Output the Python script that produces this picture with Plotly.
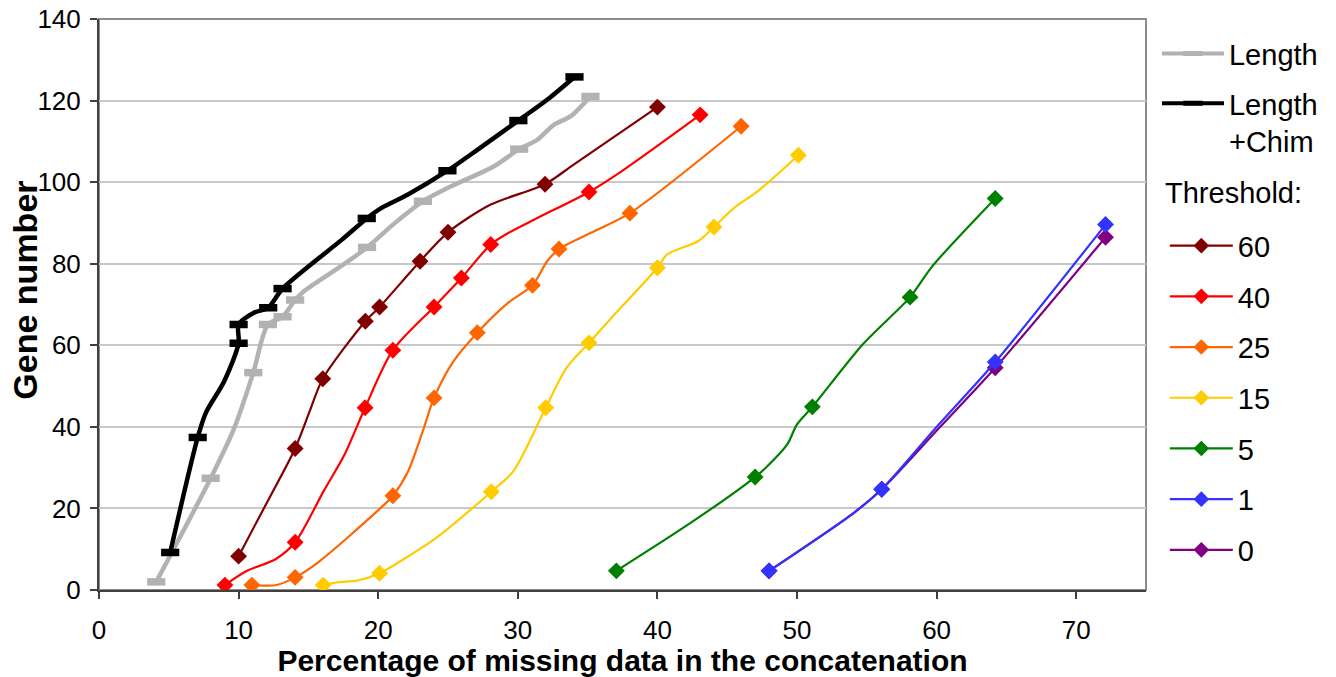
import plotly.graph_objects as go

# ---------------- data (x = % missing data, y = gene number) ----------------
# full smoothed path points; *_mk marks points that carry a marker (1) or not (0)
len_x = [4.1, 8.0, 9.7, 11.05, 12.1, 13.15, 14.05, 14.7, 17.6, 19.2, 21.1, 22.4, 23.2, 25.0, 28.3, 30.1, 31.4, 32.6, 33.8, 35.2]
len_y = [2.0, 27.4, 39.8, 53.3, 65.1, 67.0, 71.1, 73.3, 80.0, 84.0, 89.7, 93.3, 95.3, 98.6, 103.9, 108.1, 110.4, 114.1, 116.2, 121.0]
len_mk = [1, 1, 0, 1, 1, 1, 1, 0, 0, 1, 0, 0, 1, 0, 0, 1, 0, 0, 0, 1]

chim_x = [5.1, 7.07, 7.66, 8.97, 10.0, 10.0, 11.1, 12.12, 13.15, 17.4, 19.18, 20.3, 22.1, 24.96, 27.3, 30.04, 32.1, 34.06]
chim_y = [9.2, 37.4, 43.5, 51.2, 60.5, 65.1, 68.0, 69.2, 73.9, 85.9, 91.1, 93.8, 96.9, 102.8, 108.4, 115.1, 120.2, 125.8]
chim_mk = [1, 1, 0, 0, 1, 1, 0, 1, 1, 0, 1, 0, 0, 1, 0, 1, 0, 1]

t60_x = [10.0, 12.1, 14.05, 15.1, 16.03, 19.08, 20.1, 23.0, 25.0, 28.06, 31.95, 34.0, 40.0]
t60_y = [8.3, 21.9, 34.7, 43.9, 51.8, 65.9, 69.4, 80.6, 87.7, 94.5, 99.5, 104.3, 118.4]
t60_mk = [1, 0, 1, 0, 1, 1, 1, 1, 1, 0, 1, 0, 1]

t40_x = [9.02, 10.6, 12.67, 14.05, 16.1, 17.6, 19.06, 21.05, 24.0, 25.96, 28.06, 29.3, 31.4, 35.1, 37.4, 43.06]
t40_y = [1.2, 4.7, 7.6, 11.7, 24.3, 33.3, 44.7, 58.8, 69.4, 76.5, 84.7, 87.5, 91.2, 97.6, 102.6, 116.5]
t40_mk = [1, 0, 0, 1, 0, 0, 1, 1, 1, 1, 1, 0, 0, 1, 0, 1]

t25_x = [10.95, 11.8, 12.8, 14.05, 15.7, 19.95, 21.05, 22.1, 23.2, 24.0, 25.4, 27.1, 29.3, 31.05, 32.1, 32.95, 35.5, 38.03, 46.0]
t25_y = [1.2, 1.05, 1.3, 3.1, 6.8, 19.4, 23.1, 28.8, 39.0, 47.1, 56.1, 63.1, 70.4, 74.7, 80.6, 83.6, 88.0, 92.4, 113.7]
t25_mk = [1, 0, 0, 1, 0, 0, 1, 0, 0, 1, 0, 1, 0, 1, 0, 1, 0, 1, 1]

t15_x = [16.06, 17.1, 18.5, 20.1, 21.85, 24.2, 28.1, 29.7, 32.0, 33.5, 35.1, 36.7, 40.0, 40.7, 42.9, 44.05, 45.5, 47.2, 50.1]
t15_y = [1.2, 1.9, 2.3, 4.1, 7.6, 12.9, 24.1, 29.2, 44.7, 54.5, 60.6, 66.7, 79.0, 82.3, 85.5, 89.0, 93.7, 97.8, 106.6]
t15_mk = [1, 0, 0, 1, 0, 0, 1, 0, 1, 0, 1, 0, 1, 0, 0, 1, 0, 0, 1]

t5_x = [37.06, 42.4, 47.0, 47.8, 49.3, 50.0, 51.1, 54.7, 58.1, 59.7, 64.2]
t5_y = [4.7, 16.5, 27.7, 30.1, 35.7, 40.6, 44.9, 60.2, 71.8, 79.4, 96.0]
t5_mk = [1, 0, 1, 0, 0, 0, 1, 0, 1, 0, 1]

t1_x = [48.0, 54.1, 56.07, 60.06, 64.2, 72.1]
t1_y = [4.7, 19.0, 24.7, 40.2, 55.9, 89.6]
t1_mk = [1, 0, 1, 0, 1, 1]

t0_x = [48.0, 54.1, 56.07, 60.06, 64.2, 72.1]
t0_y = [4.7, 19.0, 24.7, 39.3, 54.5, 86.5]
t0_mk = [1, 0, 1, 0, 1, 1]

x_ticks = [0, 10, 20, 30, 40, 50, 60, 70]
y_ticks = [0, 20, 40, 60, 80, 100, 120, 140]

FONT = "Liberation Sans, Arial, sans-serif"

fig = go.Figure()

def add_series(xs, ys, mk, name, color, lw, symbol, msize, mlw, legend, order):
    # smoothed line through every path point
    fig.add_trace(go.Scatter(x=xs, y=ys, mode="lines", line=dict(color=color, width=lw, shape="spline", smoothing=0.8),
                             showlegend=False, hoverinfo="skip"))
    mx = [a for a, m in zip(xs, mk) if m]
    my = [b for b, m in zip(ys, mk) if m]
    if symbol == "line-ew":
        marker = dict(symbol=symbol, size=msize, line=dict(color=color, width=mlw))
    else:
        marker = dict(symbol=symbol, size=msize, color=color, line=dict(width=0))
    fig.add_trace(go.Scatter(x=mx, y=my, mode="markers", marker=marker, showlegend=False))
    return dict(name=name, color=color, lw=lw, marker=marker, legend=legend, order=order)

entries = []
entries.append(add_series(t0_x, t0_y, t0_mk, "0", "#800080", 2.2, "diamond", 13, 0, "legend2", 8))
entries.append(add_series(t1_x, t1_y, t1_mk, "1", "#3333ff", 2.2, "diamond", 13, 0, "legend2", 7))
entries.append(add_series(t5_x, t5_y, t5_mk, "5", "#008000", 2.2, "diamond", 13, 0, "legend2", 6))
entries.append(add_series(t15_x, t15_y, t15_mk, "15", "#ffcc00", 2.2, "diamond", 13, 0, "legend2", 5))
entries.append(add_series(t25_x, t25_y, t25_mk, "25", "#ff6600", 2.2, "diamond", 13, 0, "legend2", 4))
entries.append(add_series(t40_x, t40_y, t40_mk, "40", "#ff0000", 2.2, "diamond", 13, 0, "legend2", 3))
entries.append(add_series(t60_x, t60_y, t60_mk, "60", "#800000", 2.2, "diamond", 13, 0, "legend2", 2))
entries.append(add_series(len_x, len_y, len_mk, "Length", "#b2b2b2", 4.5, "line-ew", 13, 7.5, "legend", 0))
entries.append(add_series(chim_x, chim_y, chim_mk, "Length<br>+Chim", "#000000", 4.5, "line-ew", 13, 7.5, "legend", 1))

# legend entries (in legend order)
for e in sorted(entries, key=lambda d: d["order"]):
    if e["marker"]["symbol"] == "line-ew":
        m = dict(symbol="line-ew", size=14, line=dict(color=e["color"], width=9))
    else:
        m = dict(symbol="diamond", size=12, color=e["color"], line=dict(width=0))
    fig.add_trace(go.Scatter(x=[None], y=[None], mode="lines+markers", name=e["name"],
                             line=dict(color=e["color"], width=min(e["lw"], 4)),
                             marker=m, legend=e["legend"], legendgroup="g" + str(e["order"])))

# the page body has an 8px margin: shrink the figure so the plot area lands where the reference has it
fig.update_layout(
    width=1328, height=669,
    margin=dict(l=91, r=190, t=11, b=87),
    paper_bgcolor="white", plot_bgcolor="white",
    font=dict(family=FONT, color="black"),
    xaxis=dict(range=[0, 75], tickvals=x_ticks, ticks="outside", ticklen=7, tickwidth=1.5, tickcolor="#404040",
               showline=True, linecolor="#404040", linewidth=2, showgrid=False, zeroline=False,
               tickfont=dict(size=26, family=FONT), ticklabelstandoff=9, automargin=False,
               ticklabeloverflow="allow",
               title=dict(text="<b>Percentage of missing data in the concatenation</b>",
                          font=dict(size=30, family=FONT), standoff=3)),
    yaxis=dict(range=[0, 140], tickvals=y_ticks, ticks="outside", ticklen=7, tickwidth=1.5, tickcolor="#404040",
               showline=True, linecolor="#404040", linewidth=2, showgrid=True, gridcolor="#c8c8c8", gridwidth=1.5,
               zeroline=False, tickfont=dict(size=26, family=FONT), ticklabelstandoff=4, automargin=False,
               ticklabeloverflow="allow"),
    legend=dict(x=1.0105, xanchor="left", y=0.984, yanchor="top", font=dict(size=29, family=FONT),
                itemwidth=62, tracegroupgap=9, valign="top", bgcolor="rgba(0,0,0,0)"),
    legend2=dict(x=1.018, xanchor="left", y=0.6475, yanchor="top", font=dict(size=29, family=FONT),
                 itemwidth=63, tracegroupgap=10, bgcolor="rgba(0,0,0,0)"),
    annotations=[
        dict(text="Threshold:", xref="paper", yref="paper", x=1.0165, y=0.695,
             xanchor="left", yanchor="middle", showarrow=False, font=dict(size=29, family=FONT)),
        dict(text="<b>Gene number</b>", xref="paper", yref="paper", x=-0.0707, y=0.526, textangle=-90,
             xanchor="center", yanchor="middle", showarrow=False, font=dict(size=34, family=FONT)),
    ],
    shapes=[dict(type="rect", xref="x domain", yref="y domain", x0=0, x1=1, y0=0, y1=1,
                 line=dict(color="#8c8c8c", width=2), layer="below")],
)

fig.write_html("out.html")
